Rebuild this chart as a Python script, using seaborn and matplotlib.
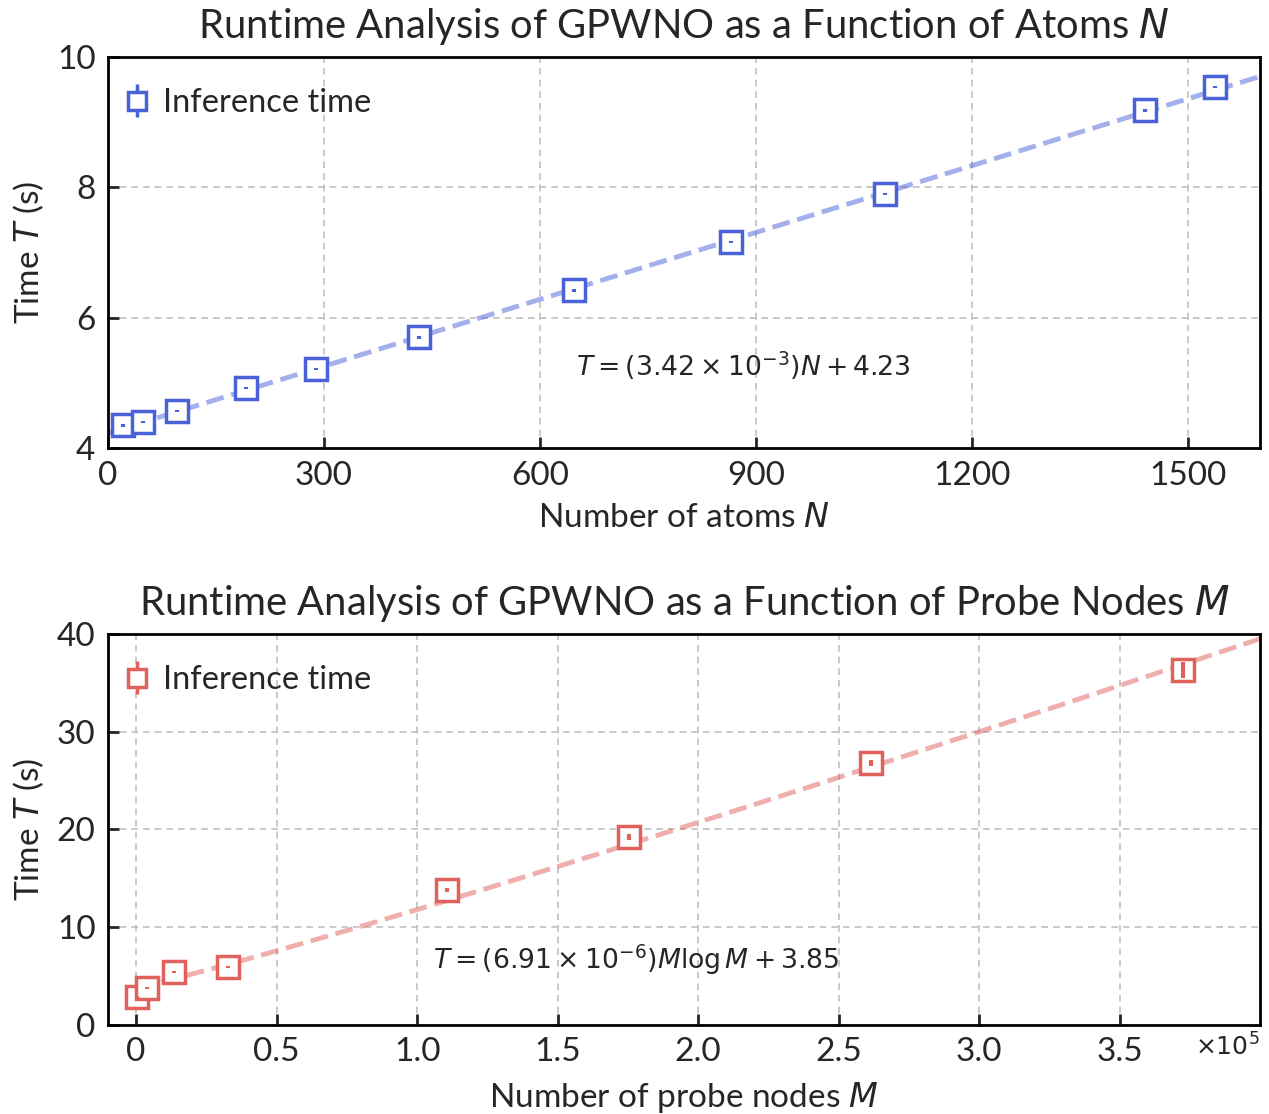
import numpy as np
import matplotlib
matplotlib.use("Agg")
import matplotlib.pyplot as plt
import seaborn as sns
from matplotlib.ticker import FuncFormatter, MultipleLocator

# data
atoms_n = [21, 49, 96, 192, 289, 432, 647, 865, 1079, 1440, 1537]
atoms_t = [4.35, 4.40, 4.57, 4.92, 5.21, 5.70, 6.42, 7.16, 7.90, 9.18, 9.54]
atoms_err = [0.02, 0.02, 0.02, 0.02, 0.02, 0.02, 0.02, 0.02, 0.02, 0.02, 0.02]

probe_m = [300, 3900, 13500, 32700, 110600, 175300, 261700, 372700]
probe_t = [2.86, 3.8, 5.4, 5.9, 13.8, 19.2, 26.8, 36.3]
probe_err = [0.1, 0.1, 0.1, 0.1, 0.2, 0.3, 0.3, 0.8]

blue = "#4a62d8"
red = "#e0625c"

sns.set_theme(style="ticks")
plt.rcParams['font.family'] = ['Lato', 'DejaVu Sans']
plt.rcParams['mathtext.fontset'] = 'dejavusans'

fig = plt.figure(figsize=(12.69, 11.14), dpi=100)
ax1 = fig.add_axes([0.0851, 0.5978, 0.9078, 0.351])
ax2 = fig.add_axes([0.0851, 0.0799, 0.9078, 0.351])

for ax in (ax1, ax2):
    for s in ax.spines.values():
        s.set_linewidth(2)
        s.set_color('black')
    ax.tick_params(direction='in', length=8, width=2, labelsize=24, pad=9)
    ax.grid(True, linestyle=(0, (4, 3)), color='#c0c0c0', linewidth=1.2)


def draw_points(ax, x, y, err, color):
    # white squares with the tiny error bars drawn on top
    ax.errorbar(x, y, yerr=err, fmt='s', mfc='white', mec=color, ecolor=color,
                color=color, markersize=16, mew=2.5, elinewidth=2.5,
                label='Inference time', zorder=3)
    ax.errorbar(x, y, yerr=err, fmt='none', ecolor=color, elinewidth=3, zorder=4)
    ax.legend(loc='upper left', bbox_to_anchor=(0.0026, 0.954), fontsize=23.5,
              frameon=False, handlelength=0.8, handletextpad=0.38,
              borderaxespad=0, markerscale=0.85)


# top: runtime vs atoms
n_fit = np.linspace(0, 1600, 50)
sns.lineplot(x=n_fit, y=3.42e-3 * n_fit + 4.23, ax=ax1, color=blue, alpha=0.5,
             linestyle='--', linewidth=3.5, zorder=2)
draw_points(ax1, atoms_n, atoms_t, atoms_err, blue)
ax1.set_xlim(0, 1600)
ax1.set_ylim(4, 10)
ax1.xaxis.set_major_locator(MultipleLocator(300))
ax1.yaxis.set_major_locator(MultipleLocator(2))
ax1.set_xlabel('Number of atoms $N$', fontsize=24, labelpad=9)
ax1.set_ylabel('Time $T$ (s)', fontsize=24, labelpad=8)
ax1.set_title('Runtime Analysis of GPWNO as a Function of Atoms $N$', fontsize=28.8, pad=14)
ax1.text(882, 5.26, r'$T = (3.42 \times 10^{-3})N + 4.23$', fontsize=19.2,
         ha='center', va='center')

# bottom: runtime vs probe nodes
m_fit = np.linspace(100, 400000, 200)
sns.lineplot(x=m_fit, y=6.91e-6 * m_fit * np.log(m_fit) + 3.85, ax=ax2, color=red,
             alpha=0.5, linestyle='--', linewidth=3.5, zorder=2)
draw_points(ax2, probe_m, probe_t, probe_err, red)
ax2.set_xlim(-10000, 400000)
ax2.set_ylim(0, 40)
ax2.set_xticks([0, 50000, 100000, 150000, 200000, 250000, 300000, 350000])
ax2.yaxis.set_major_locator(MultipleLocator(10))
ax2.xaxis.set_major_formatter(FuncFormatter(lambda v, p: '0' if abs(v) < 1 else f'{v / 1e5:.1f}'))
ax2.text(1.0, -0.02, r'$\times 10^5$', transform=ax2.transAxes, fontsize=18,
         ha='right', va='top')
ax2.set_xlabel('Number of probe nodes $M$', fontsize=24, labelpad=9)
ax2.set_ylabel('Time $T$ (s)', fontsize=24, labelpad=8)
ax2.set_title('Runtime Analysis of GPWNO as a Function of Probe Nodes $M$', fontsize=28.8, pad=14)
ax2.text(178000, 6.65, r'$T = (6.91 \times 10^{-6})M \log M + 3.85$', fontsize=19.2,
         ha='center', va='center')

fig.savefig('out.png', dpi=100)
